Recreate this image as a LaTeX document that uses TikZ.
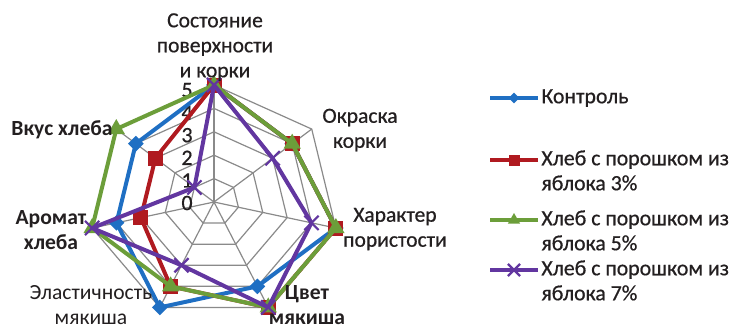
\documentclass[tikz,border=0pt]{standalone}
\usepackage{fontspec}
\setmainfont{Carlito}
\newfontfamily\medfont[FakeBold=0.6]{Carlito}
\usetikzlibrary{shapes.geometric,shapes.misc,calc}
\definecolor{cblue}{HTML}{1F6FC3}
\definecolor{cred}{HTML}{B01A20}
\definecolor{cgreen}{HTML}{6C9E3A}
\definecolor{cpurple}{HTML}{6236A0}
\definecolor{cgrid}{HTML}{8A8A8A}
\definecolor{ctext}{HTML}{231F20}
\newcommand\plotseries[4]{%
  \foreach \v [count=\k from 0] in {#4} { \coordinate (#1\k) at ($(c)!\v/5!(ax\k)$); }
  \draw[ser, draw=#2] (#10) -- (#11) -- (#12) -- (#13) -- (#14) -- (#15) -- (#16) -- cycle;
  \foreach \k in {0,...,6} { \node[#3] (#1m\k) at (#1\k) {}; }
}
\begin{document}
\begin{tikzpicture}[x=0.5pt,y=-0.5pt,
  grid/.style={draw=cgrid, line width=0.6pt},
  ser/.style={line width=2pt, line join=round},
  lab/.style={font=\fontsize{10.8}{12.5}\selectfont\medfont, text=ctext, align=center, inner sep=0pt},
  tick/.style={font=\fontsize{11}{12}\selectfont\medfont, text=ctext, inner sep=0pt, anchor=east},
  leg/.style={font=\fontsize{10.9}{12.5}\selectfont\medfont, text=ctext, align=left, inner sep=0pt, anchor=west},
  bmk/.style={diamond, fill=cblue, inner sep=0pt, minimum size=8pt},
  rmk/.style={rectangle, fill=cred, inner sep=0pt, minimum size=7.5pt},
  gmk/.style={regular polygon, regular polygon sides=3, fill=cgreen, inner sep=0pt, minimum size=10pt},
  pmk/.style={cross out, draw=cpurple, line width=1.1pt, inner sep=0pt, minimum size=6pt},
]
\useasboundingbox (0,0) rectangle (732,329);
\coordinate (c) at (214,202);
\foreach \k in {0,...,6}
  \coordinate (ax\k) at ({214+125*cos(90-\k*360/7)},{202-117*sin(90-\k*360/7)});
\foreach \r in {1,...,5}
  \draw[grid] ($(c)!\r/5!(ax0)$) -- ($(c)!\r/5!(ax1)$) -- ($(c)!\r/5!(ax2)$) -- ($(c)!\r/5!(ax3)$) -- ($(c)!\r/5!(ax4)$) -- ($(c)!\r/5!(ax5)$) -- ($(c)!\r/5!(ax6)$) -- cycle;
\foreach \k in {0,...,6}
  \draw[grid] (c) -- (ax\k);
% tick labels
\foreach \t [count=\i from 0] in {0,1,2,3,4,5}
  \node[tick] (t\t) at (193,{203-22.6*\i}) {\t};
% series
\plotseries{B}{cblue}{bmk}{5,4,5,4,5,4,4}
\plotseries{R}{cred}{rmk}{5,4,5,5,4,3,3}
\plotseries{G}{cgreen}{gmk}{5,4,5,5,4,5,5}
\plotseries{P}{cpurple}{pmk}{5,3,4,5,3,5,1}
% axis labels
\node[lab] (l0) at (215,47) {Состояние\\поверхности\\и корки};
\node[lab] (l1) at (360,130) {Окраска\\корки};
\node[lab] (l2) at (395,229) {Характер\\пористости};
\node[lab, font=\fontsize{10.8}{12.5}\selectfont\bfseries] (l3) at (307,305) {Цвет\\мякиша};
\node[lab, font=\fontsize{10.8}{12.5}\selectfont] (l4) at (91,305) {Эластичность\\мякиша};
\node[lab, font=\fontsize{10.8}{12.5}\selectfont\bfseries] (l5) at (51,230) {Аромат\\хлеба};
\node[lab, font=\fontsize{10.8}{12.5}\selectfont\bfseries] (l6) at (62,130) {Вкус хлеба};
% legend
\coordinate (b1) at (490,98); \coordinate (b2) at (538,98);
\draw[line width=1.6pt, cblue] (b1) -- (b2);
\node[bmk, minimum size=5.5pt] (bl) at ($(b1)!0.5!(b2)$) {};
\node[leg] (tb) at (541,98) {Контроль};
\coordinate (r1) at (490,160); \coordinate (r2) at (538,160);
\draw[line width=1.6pt, cred] (r1) -- (r2);
\node[rmk, minimum size=5.5pt] (rl) at ($(r1)!0.5!(r2)$) {};
\node[leg, anchor=north west] (tr) at (541,150) {Хлеб с порошком из\\яблока 3\%};
\coordinate (g1) at (490,220); \coordinate (g2) at (538,220);
\draw[line width=1.6pt, cgreen] (g1) -- (g2);
\node[gmk, minimum size=7pt] (gl) at ($(g1)!0.5!(g2)$) {};
\node[leg, anchor=north west] (tg) at (541,210) {Хлеб с порошком из\\яблока 5\%};
\coordinate (p1) at (490,270); \coordinate (p2) at (538,270);
\draw[line width=1.6pt, cpurple] (p1) -- (p2);
\node[pmk, minimum size=5pt] (pl) at ($(p1)!0.5!(p2)$) {};
\node[leg, anchor=north west] (tp) at (541,260) {Хлеб с порошком из\\яблока 7\%};
\end{tikzpicture}
\end{document}
